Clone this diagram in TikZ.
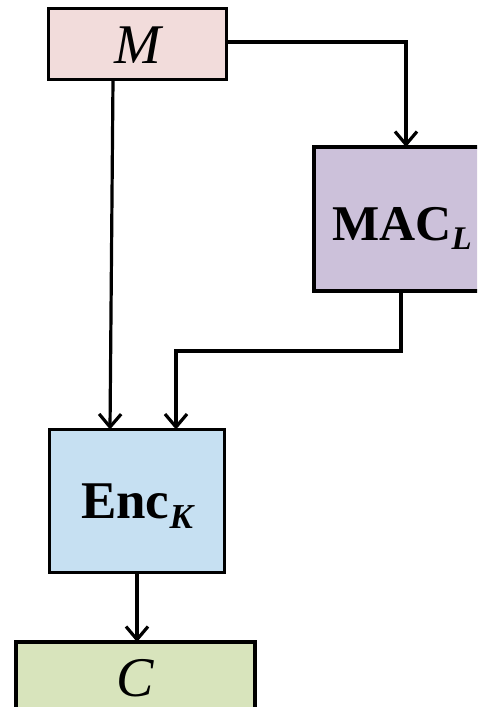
\documentclass[tikz,border=0pt]{standalone}
\usepackage{fontspec}
\setmainfont{Liberation Serif}
\usetikzlibrary{arrows.meta}
\definecolor{mpink}{RGB}{242,220,219}
\definecolor{maclav}{RGB}{204,193,218}
\definecolor{encblue}{RGB}{198,224,242}
\definecolor{cgreen}{RGB}{216,228,188}
\newcommand{\placetxt}[2]{\raisebox{-#1}[0pt][0pt]{#2}}
\begin{document}
\begin{tikzpicture}[x=1pt,y=-1pt,
  box/.style={draw=black,line width=3.2pt,inner sep=0pt,outer sep=0pt},
  conn/.style={line width=3.2pt,-{Straight Barb[length=13pt,width=22pt,line width=3.2pt]}},
  bigit/.style={font=\fontsize{56}{56}\selectfont\itshape},
  bigbf/.style={font=\fontsize{50}{50}\selectfont\bfseries}]
\useasboundingbox (0,0) rectangle (477,707);
\clip (0,0) rectangle (477,707);
\node[box,fill=mpink,minimum width=178pt,minimum height=71pt,bigit] (M) at (137.5,44) {\placetxt{19pt}{M}};
\node[box,fill=maclav,minimum width=176pt,minimum height=144pt,bigbf] (MAC) at (402,219) {\placetxt{21pt}{MAC\raisebox{-9pt}{\fontsize{33}{33}\selectfont\bfseries\itshape L}}};
\node[box,fill=encblue,minimum width=175pt,minimum height=143pt,font=\fontsize{53}{53}\selectfont\bfseries] (Enc) at (137,501) {\placetxt{17pt}{Enc\raisebox{-10pt}{\fontsize{35}{35}\selectfont\bfseries\itshape K}}};
\node[box,fill=cgreen,minimum width=239pt,minimum height=70pt,bigit] (C) at (135.5,677) {\placetxt{19pt}{C}};
\coordinate (bend) at (401,351);
\draw[conn] ([yshift=2pt]M.east) -| ([xshift=4pt]MAC.north);
\draw[conn] ([xshift=-24.5pt]M.south) -- ([xshift=-27pt]Enc.north);
\draw[conn] ([xshift=-1pt]MAC.south) -- (bend) -| ([xshift=39pt]Enc.north);
\draw[conn] (Enc.south) -- (Enc.south |- C.north);
\end{tikzpicture}
\end{document}
